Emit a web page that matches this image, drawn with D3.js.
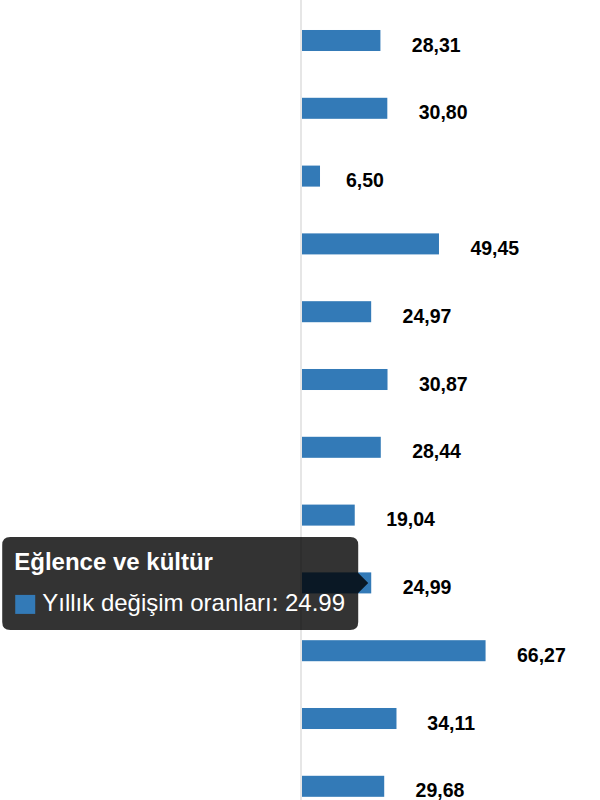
<!DOCTYPE html>
<html>
<head>
<meta charset="utf-8">
<script src="https://cdn.jsdelivr.net/npm/d3@7"></script>
<style>
body { margin:0; background:#fff; }
svg { display:block; font-family: Arial, "Liberation Sans", sans-serif; }
</style>
</head>
<body>
<div id="chart-area"></div>
<script>
// TÜFE ana harcama grupları - yıllık değişim (%)
var categories = ["Gıda ve alkolsüz içecekler", "Alkollü içecekler ve tütün", "Giyim ve ayakkabı",
	"Konut", "Mobilya ve ev eşyası", "Sağlık", "Ulaştırma", "Haberleşme",
	"Eğlence ve kültür", "Eğitim", "Lokanta ve oteller", "Çeşitli mal ve hizmetler"];
var values = [28.31, 30.80, 6.50, 49.45, 24.97, 30.87, 28.44, 19.04, 24.99, 66.27, 34.11, 29.68];
var seriesName = "Yıllık değişim oranları";
var hoverIndex = 8;

var width = 600;
var height = 800;

var data = categories.map(function(c, i){
	return { cat: c, value: values[i] };
});

var svg = d3.select("#chart-area")
	.append("svg")
		.attr("width", width)
		.attr("height", height);

var x = d3.scaleLinear()
	.domain([0, 100])
	.range([302, 579]);

var y = d3.scaleBand()
	.domain(categories)
	.range([6.6, 820.2])
	.paddingInner(0.69)
	.paddingOuter(0.345);

// baseline
svg.append("line")
	.attr("x1", x(0) - 1)
	.attr("x2", x(0) - 1)
	.attr("y1", 0)
	.attr("y2", height)
	.attr("stroke", "#e6e6e6")
	.attr("stroke-width", 2);

svg.selectAll("rect.bar")
	.data(data)
	.enter()
	.append("rect")
		.attr("class", "bar")
		.attr("x", x(0))
		.attr("y", function(d){ return y(d.cat); })
		.attr("width", function(d){ return x(d.value) - x(0); })
		.attr("height", y.bandwidth())
		.attr("fill", "#337ab7");

var labels = svg.selectAll("text.lbl")
	.data(data)
	.enter()
	.append("text")
		.attr("class", "lbl")
		.attr("y", function(d){ return y(d.cat) + y.bandwidth() + 0.5; })
		.attr("font-size", "19.5px")
		.attr("font-weight", "bold")
		.attr("fill", "#000")
		.text(function(d){ return d.value.toFixed(2).replace(".", ","); });

labels.attr("x", function(d){
	var w = this.getComputedTextLength();
	return x(d.value) + 7 + w / 2;
});

// tooltip
var hd = data[hoverIndex];
var tipX = x(hd.value) - 3;
var tipY = y(hd.cat) + y.bandwidth() / 2;
var boxR = tipX - 10;
var boxW = 356, boxH = 93;
var boxL = boxR - boxW, boxT = tipY - 46;

var tip = svg.append("g");
tip.append("path")
	.attr("d", "M" + (boxL + 8) + "," + boxT +
		"H" + (boxR - 8) + "Q" + boxR + "," + boxT + " " + boxR + "," + (boxT + 8) +
		"V" + (tipY - 10) + "L" + tipX + "," + tipY + "L" + boxR + "," + (tipY + 10) +
		"V" + (boxT + boxH - 8) + "Q" + boxR + "," + (boxT + boxH) + " " + (boxR - 8) + "," + (boxT + boxH) +
		"H" + (boxL + 8) + "Q" + boxL + "," + (boxT + boxH) + " " + boxL + "," + (boxT + boxH - 8) +
		"V" + (boxT + 8) + "Q" + boxL + "," + boxT + " " + (boxL + 8) + "," + boxT + "Z")
	.attr("fill", "rgba(0,0,0,0.8)");

tip.append("text")
	.attr("x", boxL + 12)
	.attr("y", boxT + 33)
	.attr("font-size", "24px")
	.attr("font-weight", "bold")
	.attr("fill", "#fff")
	.text(hd.cat);

tip.append("rect")
	.attr("x", boxL + 13)
	.attr("y", boxT + 58)
	.attr("width", 20)
	.attr("height", 19)
	.attr("fill", "#337ab7");

tip.append("text")
	.attr("x", boxL + 40)
	.attr("y", boxT + 74)
	.attr("font-size", "24px")
	.attr("fill", "#fff")
	.text(seriesName + ": " + hd.value);
</script>
</body>
</html>
